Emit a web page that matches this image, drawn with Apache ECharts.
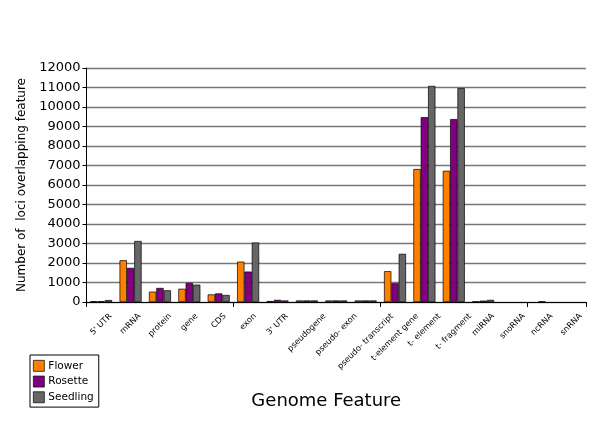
<!DOCTYPE html>
<html>
<head>
<meta charset="utf-8">
<script src="https://cdn.jsdelivr.net/npm/echarts@6/dist/echarts.min.js"></script>
<style>
html,body{margin:0;padding:0;background:#fff;}
#c{width:600px;height:421px;}
</style>
</head>
<body>
<div id="c"></div>
<script>
var categories = ["5' UTR","mRNA","protein","gene","CDS","exon","3' UTR","pseudogene","pseudo- exon","pseudo- transcript","t-element gene","t- element","t- fragment","miRNA","snoRNA","ncRNA","snRNA"];
var flower   = [40, 2140, 530, 680, 390, 2070, 50, 80, 80, 80, 1580, 6820, 6730, 30, null, null, null];
var rosette  = [40, 1750, 720, 980, 440, 1560, 110, 80, 80, 80, 960, 9480, 9380, 70, null, 30, null];
var seedling = [100, 3130, 600, 890, 360, 3050, 80, 80, 80, 80, 2470, 11080, 10970, 110, null, null, null];
var yTicks = [0, 12000, 1000];
var seriesNames = ["Flower", "Rosette", "Seedling"];
var colors = ["#FF8000", "#800080", "#666666"];

var chart = echarts.init(document.getElementById('c'), null, {renderer: 'canvas'});
var font = 'DejaVu Sans';
function mk(name, data, color) {
  return {
    name: name, type: 'bar', data: data, barGap: '0%', barCategoryGap: '25%',
    itemStyle: {color: color, borderColor: '#000', borderWidth: 0.7},
    emphasis: {disabled: true}
  };
}
chart.setOption({
  animation: false,
  backgroundColor: '#fff',
  textStyle: {fontFamily: font},
  grid: {left: 86.5, right: 14, top: 68, bottom: 119, containLabel: false},
  legend: {
    orient: 'vertical', left: 30, top: 355,
    data: seriesNames,
    icon: 'rect', itemWidth: 11, itemHeight: 11, itemGap: 4,
    borderColor: '#000', borderWidth: 1, padding: [5, 5, 4, 3],
    textStyle: {fontFamily: font, fontSize: 10.5, color: '#000', padding: [0,0,0,-1]},
    itemStyle: {borderColor: '#000', borderWidth: 0.7}
  },
  xAxis: {
    type: 'category', data: categories,
    name: 'Genome Feature', nameLocation: 'middle', nameGap: 90,
    nameTextStyle: {fontFamily: font, fontSize: 18, color: '#000', padding: [0, 20, 0, 0]},
    axisLine: {lineStyle: {color: '#000', width: 1}},
    axisTick: {show: true, length: 5, lineStyle: {color: '#000'}},
    axisLabel: {show: false}
  },
  yAxis: {
    type: 'value', min: yTicks[0], max: yTicks[1], interval: yTicks[2],
    name: 'Number of  loci overlapping feature', nameLocation: 'middle', nameGap: 56,
    nameTextStyle: {fontFamily: font, fontSize: 12, color: '#000'},
    axisLine: {show: true, lineStyle: {color: '#000', width: 1}},
    axisTick: {show: true, length: 4, lineStyle: {color: '#000'}},
    splitLine: {show: true, lineStyle: {color: '#777', width: 1.3}},
    axisLabel: {fontSize: 13, color: '#000', margin: 6, fontFamily: font, formatter: function (v) { return String(v); }}
  },
  series: [mk(seriesNames[0], flower, colors[0]), mk(seriesNames[1], rosette, colors[1]), mk(seriesNames[2], seedling, colors[2])]
});

// Rotated category labels, centred under each category (as in the reference)
var labelFontSize = 8.2;
var cv = document.createElement('canvas').getContext('2d');
cv.font = labelFontSize + 'px "' + font + '"';
var axisY = chart.convertToPixel({yAxisIndex: 0}, 0);
var g = categories.map(function (c, i) {
  var cx = chart.convertToPixel({xAxisIndex: 0}, i);
  var w = cv.measureText(c).width;
  var half = (w + labelFontSize) * Math.SQRT1_2 / 2;
  return {
    type: 'text', x: cx, y: axisY + 10 + half, rotation: Math.PI / 4,
    style: {text: c, font: labelFontSize + 'px "' + font + '"', fill: '#000',
            textAlign: 'center', textVerticalAlign: 'middle', align: 'center', verticalAlign: 'middle'},
    silent: true
  };
});
chart.setOption({graphic: g});
</script>
</body>
</html>
